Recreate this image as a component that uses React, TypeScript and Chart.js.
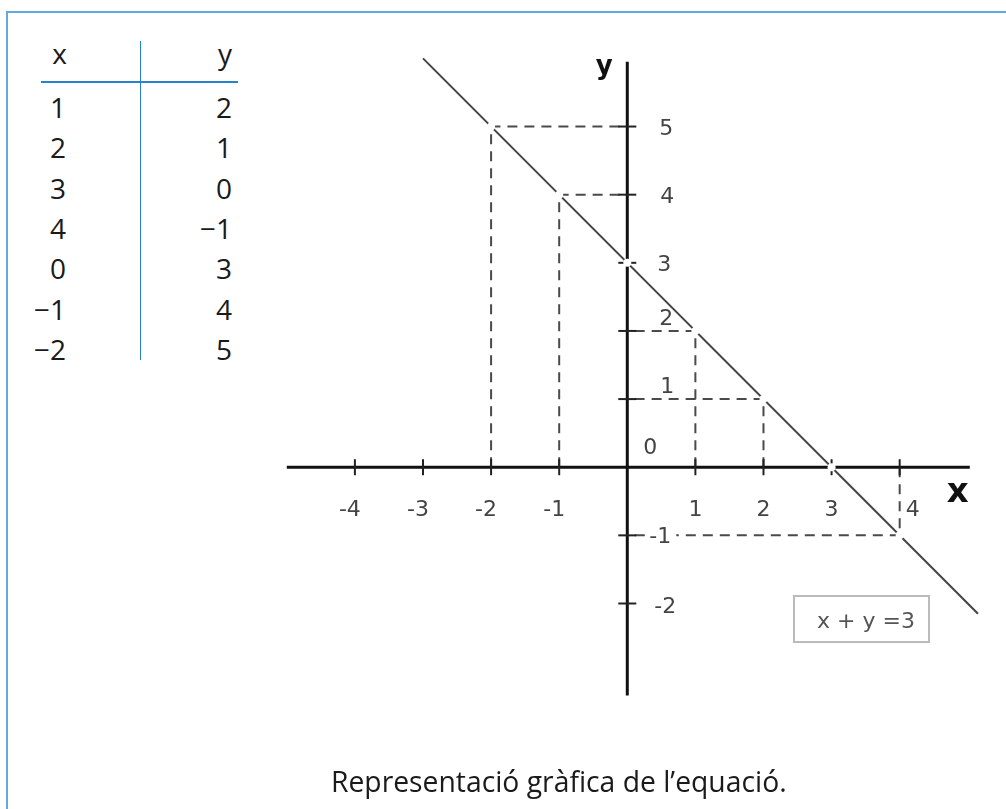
import React, { useEffect, useRef } from "react";
import { Chart, registerables } from "chart.js";

Chart.register(...registerables);

// ---- data ----
const tableX = [1, 2, 3, 4, 0, -1, -2];
const tableY = [2, 1, 0, -1, 3, 4, 5];
const xTickValues = [-4, -3, -2, -1, 1, 2, 3, 4];
const yTickValues = [5, 4, 3, 2, 1, -1, -2];
const yLabelValues = [5, 4, 3, 2, 1, 0, -1, -2];
const lineX = [-3, 5.15];
const lineY = [6, -2.15];
const xAxisExtent = [-5, 5.03];
const yAxisExtent = [5.95, -3.35];
const equationText = "x + y =3";
const captionText = "Representació gràfica de l’equació.";
const tableHeaders = ["x", "y"];

const fmt = (v: number) => (v < 0 ? "−" + Math.abs(v) : String(v));

const W = 1006;
const H = 809;

const yLabelOffsets: Record<string, [number, number]> = {
  "5": [39, 0],
  "4": [40, 0],
  "3": [37, 0],
  "2": [39, -14],
  "1": [40, -14],
  "0": [23, -21],
  "-1": [33, 0],
  "-2": [38, 2],
};

const textPlugin = {
  id: "axisText",
  afterDatasetsDraw(chart: any) {
    const { ctx, scales } = chart;
    const xs = scales.x;
    const ys = scales.y;
    const x0 = xs.getPixelForValue(0);
    const y0 = ys.getPixelForValue(0);
    ctx.save();
    ctx.font = '22px "DejaVu Sans"';
    ctx.textAlign = "center";
    ctx.textBaseline = "alphabetic";
    ctx.fillStyle = "#444";
    xTickValues.forEach((v) => {
      const dx = v < 0 ? -5 : v === 4 ? 13 : 0;
      ctx.fillText(String(v), xs.getPixelForValue(v) + dx, y0 + 49);
    });
    yLabelValues.forEach((v) => {
      const off = yLabelOffsets[String(v)] || [38, 0];
      const cx = x0 + off[0];
      const cy = ys.getPixelForValue(v) + off[1];
      if (v < 0) {
        const w = ctx.measureText(String(v)).width;
        ctx.fillStyle = "#fff";
        ctx.fillRect(cx - w / 2 - 3, cy - 4, w + 8, 8);
      }
      ctx.fillStyle = "#444";
      ctx.fillText(String(v), cx, cy + 8);
    });
    // axis names
    ctx.fillStyle = "#111";
    ctx.font = 'bold 26px "DejaVu Sans"';
    ctx.fillText("y", x0 - 23, ys.getPixelForValue(yAxisExtent[0]) + 12);
    ctx.font = 'bold 34px "DejaVu Sans"';
    ctx.fillText("x", xs.getPixelForValue(xAxisExtent[1]) - 12, y0 + 35);
    // equation box
    ctx.strokeStyle = "#bbb";
    ctx.lineWidth = 2;
    ctx.strokeRect(794, 596, 135, 46);
    ctx.fillStyle = "#555";
    ctx.font = '22px "DejaVu Sans"';
    ctx.fillText(equationText, 866, 628);
    ctx.restore();
  },
};

export default function App() {
  const ref = useRef<HTMLCanvasElement | null>(null);

  useEffect(() => {
    if (!ref.current) return;
    const points = tableX.map((x, i) => ({ x, y: tableY[i] }));
    const guides = points
      .filter((p) => p.x !== 0 && p.y !== 0)
      .map((p) => ({
        type: "line" as const,
        data: [
          { x: p.x, y: 0 },
          { x: p.x, y: p.y },
          { x: 0, y: p.y },
        ],
        borderColor: "#4a4a4a",
        borderWidth: 2,
        borderDash: [10, 7],
        pointRadius: 0,
        showLine: true,
        fill: false,
        order: 6,
        clip: false as any,
      }));

    const chart = new Chart(ref.current, {
      type: "scatter",
      data: {
        datasets: [
          ...guides,
          {
            type: "line",
            data: lineX.map((x, i) => ({ x, y: lineY[i] })),
            borderColor: "#444",
            borderWidth: 2,
            pointRadius: 0,
            showLine: true,
            order: 5,
            clip: false as any,
          },
          {
            type: "line",
            data: [
              { x: xAxisExtent[0], y: 0 },
              { x: xAxisExtent[1], y: 0 },
            ],
            borderColor: "#111",
            borderWidth: 3,
            pointRadius: 0,
            showLine: true,
            order: 4,
            clip: false as any,
          },
          {
            type: "line",
            data: [
              { x: 0, y: yAxisExtent[0] },
              { x: 0, y: yAxisExtent[1] },
            ],
            borderColor: "#111",
            borderWidth: 3,
            pointRadius: 0,
            showLine: true,
            order: 4,
            clip: false as any,
          },
          {
            type: "scatter",
            data: xTickValues.map((v) => ({ x: v, y: 0 })),
            pointStyle: "line",
            pointRotation: 90,
            pointRadius: 8,
            pointBorderWidth: 2,
            pointBorderColor: "#222",
            borderColor: "#222",
            order: 3,
            clip: false as any,
          },
          {
            type: "scatter",
            data: yTickValues.map((v) => ({ x: 0, y: v })),
            pointStyle: "line",
            pointRotation: 0,
            pointRadius: 9,
            pointBorderWidth: 2,
            pointBorderColor: "#222",
            borderColor: "#222",
            order: 3,
            clip: false as any,
          },
          {
            type: "scatter",
            data: points,
            pointRadius: 4,
            pointBackgroundColor: "#fff",
            pointBorderWidth: 0,
            pointBorderColor: "#fff",
            order: 1,
            clip: false as any,
          },
        ] as any,
      },
      options: {
        responsive: false,
        animation: false,
        events: [],
        layout: {
          padding: { left: 286.8, right: 17.8, top: 58.4, bottom: 103.3 },
        },
        plugins: {
          legend: { display: false },
          tooltip: { enabled: false },
        },
        scales: {
          x: { type: "linear", min: -5, max: 5.3, display: false },
          y: { type: "linear", min: -3.5, max: 6, display: false },
        },
      },
      plugins: [textPlugin],
    });
    return () => chart.destroy();
  }, []);

  const font = '"Open Sans", sans-serif';
  const rowTop = (i: number) => 93 + 40.3 * i;

  return (
    <div
      style={{
        position: "absolute",
        left: 0,
        top: 0,
        width: W,
        height: H,
        background: "#fff",
        overflow: "hidden",
        fontFamily: font,
        color: "#1a1a1a",
      }}
    >
      <div
        style={{
          position: "absolute",
          left: 6,
          top: 11,
          width: W,
          height: H,
          borderTop: "2px solid #62a9dd",
          borderLeft: "2px solid #62a9dd",
        }}
      />
      {/* table lines */}
      <div style={{ position: "absolute", left: 139.5, top: 41, width: 1.6, height: 319, background: "#2583cd" }} />
      <div style={{ position: "absolute", left: 41, top: 81, width: 197, height: 1.6, background: "#2583cd" }} />
      {/* headers */}
      <div style={{ position: "absolute", left: 0, width: 67, top: 39, textAlign: "right", fontSize: 28, lineHeight: "28px" }}>
        {tableHeaders[0]}
      </div>
      <div style={{ position: "absolute", left: 150, width: 82, top: 39, textAlign: "right", fontSize: 28, lineHeight: "28px" }}>
        {tableHeaders[1]}
      </div>
      {tableX.map((v, i) => (
        <div key={"x" + i} style={{ position: "absolute", left: 0, width: 66, top: rowTop(i), textAlign: "right", fontSize: 28, lineHeight: "28px" }}>
          {fmt(v)}
        </div>
      ))}
      {tableY.map((v, i) => (
        <div key={"y" + i} style={{ position: "absolute", left: 150, width: 82, top: rowTop(i), textAlign: "right", fontSize: 28, lineHeight: "28px" }}>
          {fmt(v)}
        </div>
      ))}
      <canvas ref={ref} width={W} height={H} style={{ position: "absolute", left: 0, top: 0, width: W, height: H }} />
      <div style={{ position: "absolute", left: 331, top: 767, fontSize: 28.3, lineHeight: "28px", whiteSpace: "nowrap" }}>
        {captionText}
      </div>
    </div>
  );
}
